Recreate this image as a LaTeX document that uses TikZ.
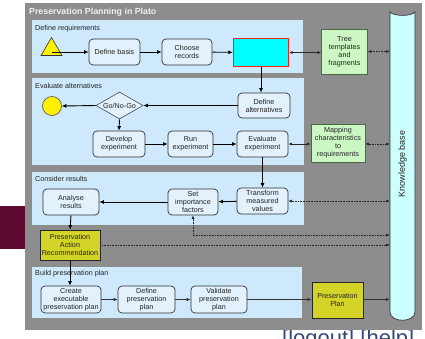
\documentclass[tikz,border=0pt]{standalone}
\usepackage{fontspec}
\setmainfont{Liberation Sans}
\usetikzlibrary{arrows.meta,shapes.geometric,calc}
\definecolor{greyp}{RGB}{141,141,141}
\definecolor{panelblue}{RGB}{205,233,251}
\definecolor{procfill}{RGB}{226,241,251}
\definecolor{greenfill}{RGB}{204,247,196}
\definecolor{greenline}{RGB}{70,110,60}
\definecolor{olivey}{RGB}{212,212,40}
\definecolor{kbfill}{RGB}{204,255,255}
\definecolor{maroon}{RGB}{94,10,48}
\definecolor{linkblue}{RGB}{52,71,122}
\definecolor{txt}{RGB}{35,35,35}
\definecolor{cyanfill}{RGB}{0,255,255}
\definecolor{redline}{RGB}{255,30,30}
\definecolor{yellowfill}{RGB}{255,240,0}
\begin{document}
\begin{tikzpicture}[x=1pt,y=-1pt,
  nf/.style={font=\fontsize{7.2}{8}\selectfont},
  proc/.style={nf, draw=black!80, line width=0.7pt, rounded corners=4pt, fill=procfill, align=center, inner sep=0pt, text=txt},
  greenbox/.style={nf, draw=greenline, line width=0.7pt, fill=greenfill, align=center, inner sep=0pt, text=txt},
  olivebox/.style={nf, draw=black!85, line width=0.8pt, fill=olivey, align=center, inner sep=0pt, text=txt},
  panel/.style={fill=panelblue},
  plabel/.style={font=\fontsize{7.2}{8}\selectfont, anchor=west, text=txt, inner sep=0pt},
  arr/.style={-{Latex[length=4.5pt,width=4pt]}, line width=0.9pt, black},
  thinarr/.style={-{Latex[length=4pt,width=3.5pt]}, line width=0.6pt, black!80},
  darr/.style={{Latex[length=3.5pt,width=3pt]}-{Latex[length=3.5pt,width=3pt]}, line width=0.6pt, black!85},
  dotarr/.style={{Latex[length=3.5pt,width=3pt]}-{Latex[length=3.5pt,width=3pt]}, line width=0.6pt, black!85, dash pattern=on 0.8pt off 0.8pt},
  dotone/.style={-{Latex[length=3.5pt,width=3pt]}, line width=0.6pt, black!85, dash pattern=on 0.8pt off 0.8pt}
]
\useasboundingbox (0,0) rectangle (425,338);
\clip (0,0) rectangle (425,338);
% background page elements
\fill[white] (0,0) rectangle (425,338);
\fill[maroon] (0,206) rectangle (25,249);
\node[font=\fontsize{22}{24}\selectfont, text=linkblue, anchor=base west, inner sep=0pt] (links) at (282,345) {[logout] [help]};
% grey frame
\fill[greyp] (25,3) rectangle (422,330);
\node[font=\bfseries\fontsize{8.8}{10}\selectfont, text=white!94!black, anchor=west, inner sep=0pt] (title) at (29,12) {Preservation Planning in Plato};
% panels
\fill[panel] (32,20) rectangle (303,73);
\fill[panel] (32,78) rectangle (304,165);
\fill[panel] (32,172) rectangle (304,225);
\fill[panel] (32,267) rectangle (302,318);
\node[plabel] (l1) at (35,28.5) {Define requirements};
\node[plabel] (l2) at (35,86) {Evaluate alternatives};
\node[plabel] (l3) at (35,178.5) {Consider results};
\node[plabel] (l4) at (35,273.5) {Build preservation plan};
% knowledge base
\filldraw[fill=kbfill, draw=black!80, line width=0.7pt]
  (390,12) .. controls (394,16.5) and (411,16.5) .. (415,12) -- (415,312)
  .. controls (415,323) and (390,323) .. (390,312) -- cycle;
\node[minimum width=25pt, minimum height=300pt, inner sep=0pt] (kb) at (402.5,166) {};
\node[rotate=90, font=\fontsize{9}{10}\selectfont, text=txt, inner sep=0pt] (kblabel) at (402.5,164) {Knowledge base};
% row 1
\node[isosceles triangle, shape border rotate=90, isosceles triangle stretches, minimum width=21pt, minimum height=18pt, inner sep=0pt, fill=yellowfill, draw=black!80, line width=0.6pt] (tri) at (51.5,49.5) {};
\node[proc, minimum width=51pt, minimum height=26pt] (basis) at (114.5,52) {Define basis};
\node[proc, minimum width=50pt, minimum height=26pt] (records) at (187,52) {Choose\\records};
\node[draw=redline, line width=1.3pt, fill=cyanfill, minimum width=55pt, minimum height=28pt, inner sep=0pt] (cyanbox) at (261,52.5) {};
\node[greenbox, minimum width=46pt, minimum height=45pt] (tree) at (344.5,51.5) {Tree\\templates\\and\\fragments};
% row 2
\node[proc, minimum width=52pt, minimum height=25pt] (defalt) at (264,105.5) {Define\\alternatives};
\node[nf, diamond, aspect=1.74, minimum width=47pt, minimum height=27pt, inner sep=0pt, draw=black!70, line width=0.6pt, fill=procfill, text=txt] (gonogo) at (119.5,105.5) {Go/No-Go};
\node[circle, minimum size=19pt, inner sep=0pt, fill=yellowfill, draw=black!70, line width=0.6pt] (endc) at (52,106) {};
\node[proc, minimum width=52pt, minimum height=26pt] (develop) at (119,144) {Develop\\experiment};
\node[proc, minimum width=45pt, minimum height=26pt] (run) at (190.5,144) {Run\\experiment};
\node[proc, minimum width=51pt, minimum height=26pt] (evalexp) at (262.5,144) {Evaluate\\experiment};
\node[greenbox, minimum width=54pt, minimum height=38pt] (mapping) at (338,143) {Mapping\\characteristics\\to\\requirements};
% row 3
\node[proc, minimum width=51pt, minimum height=26pt] (transform) at (262.5,201) {Transform\\measured\\values};
\node[proc, minimum width=50pt, minimum height=26pt] (setimp) at (193,202) {Set\\importance\\factors};
\node[proc, minimum width=56pt, minimum height=26pt] (analyse) at (71,202) {Analyse\\results};
\node[olivebox, minimum width=60pt, minimum height=30pt] (par) at (70,245) {Preservation\\Action\\Recommendation};
% row 4
\node[proc, minimum width=60pt, minimum height=27pt] (create) at (71,299.5) {Create\\executable\\preservation plan};
\node[proc, minimum width=57pt, minimum height=27pt] (defplan) at (146.5,299.5) {Define\\preservation\\plan};
\node[proc, minimum width=56pt, minimum height=27pt] (validate) at (219,299.5) {Validate\\preservation\\plan};
\node[olivebox, minimum width=51pt, minimum height=36pt] (pplan) at (337.5,300) {Preservation\\Plan};
% connectors
\draw[arr] (tri.center |- basis) -- (basis.west);
\draw[arr] (basis) -- (records);
\draw[arr] (records) -- (cyanbox);
\draw[darr] (cyanbox.east) -- (tree.west |- cyanbox.east);
\draw[dotarr] (tree.east) -- (kb.west |- tree.east);
\draw[arr] (cyanbox.south) -- (cyanbox.south |- defalt.north);
\draw[arr] (defalt.west) -- (gonogo.east);
\draw[arr] (gonogo.west) -- (endc.east);
\draw[arr] (gonogo.south) -- (develop.north);
\draw[arr] (develop) -- (run);
\draw[arr] (run) -- (evalexp);
\draw[darr] (evalexp.east) -- (mapping.west |- evalexp.east);
\draw[dotarr] (mapping.east |- evalexp.east) -- (kb.west |- evalexp.east);
\draw[arr] (evalexp.south) -- (transform.north);
\draw[arr] (transform) -- (setimp);
\draw[arr] (setimp) -- (analyse);
\draw[dotarr] (transform.east) -- (kb.west |- transform.east);
\draw[dotarr] (setimp.south) |- (kb.west |- 0,235);
\draw[arr] (analyse.south) -- (par.north);
\draw[dotone] (par.east) -- (kb.west |- par.east);
\draw[arr] (par.south) -- (create.north -| par.south);
\draw[thinarr] (create) -- (defplan);
\draw[thinarr] (defplan) -- (validate);
\draw[thinarr] (validate) -- (pplan.west |- validate);
\draw[thinarr] (pplan.east |- validate) -- (kb.west |- validate);
\end{tikzpicture}
\end{document}
